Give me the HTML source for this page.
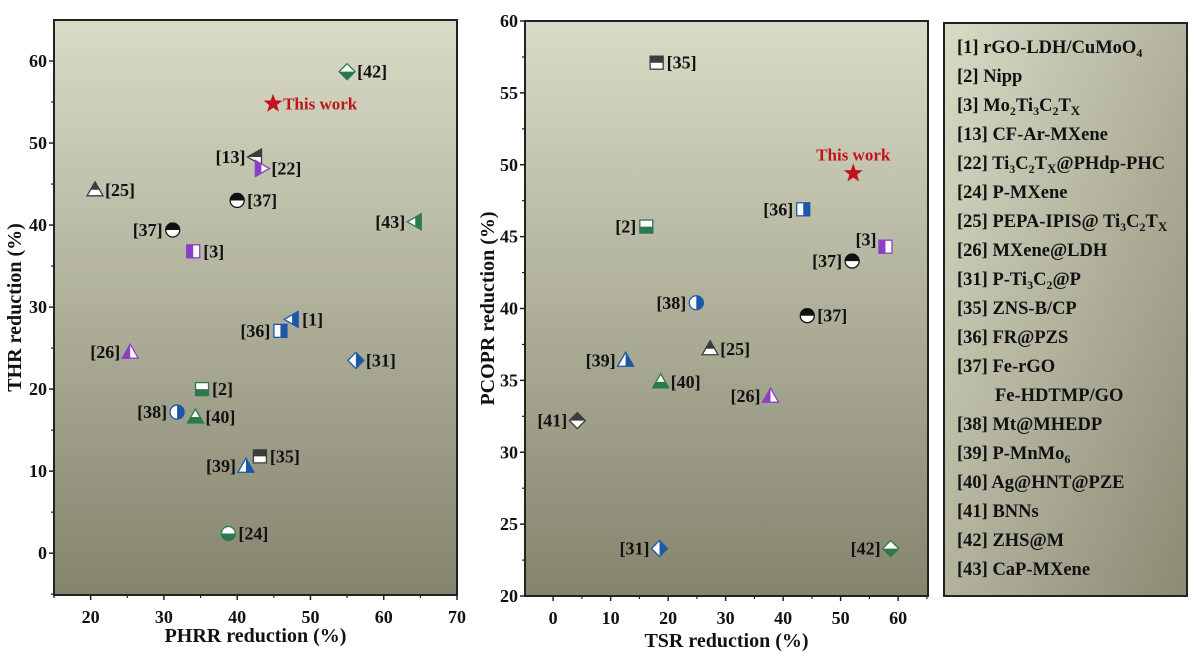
<!DOCTYPE html>
<html><head><meta charset="utf-8">
<style>
html,body{margin:0;padding:0;background:#fff;}
svg{display:block;font-family:"Liberation Serif",serif;font-weight:bold;}
</style></head>
<body>
<svg id="chart" width="1199" height="657" viewBox="0 0 1199 657" xmlns="http://www.w3.org/2000/svg">
<defs>
<linearGradient id="bg" x1="0" y1="0" x2="0" y2="1">
<stop offset="0" stop-color="#d9dbc6"/><stop offset="1" stop-color="#85856e"/>
</linearGradient>
<linearGradient id="bg2" x1="0" y1="0" x2="1" y2="1">
<stop offset="0" stop-color="#d9dbc6"/><stop offset="1" stop-color="#8b8b74"/>
</linearGradient>
<clipPath id="cT"><rect x="-10" y="-10" width="20" height="10"/></clipPath>
<clipPath id="cB"><rect x="-10" y="0" width="20" height="10"/></clipPath>
<clipPath id="cL"><rect x="-10" y="-10" width="10" height="20"/></clipPath>
<clipPath id="cR"><rect x="0" y="-10" width="10" height="20"/></clipPath>
</defs>
<g id="left"></g>
<g id="right"></g>
<g id="legend">
<rect x="944" y="23" width="243" height="573" fill="url(#bg2)" stroke="#222" stroke-width="2"/>
<g font-size="18.5" fill="#111">
<text x="957" y="53">[1] rGO-LDH/CuMoO<tspan font-size="12" dy="4">4</tspan></text>
<text x="957" y="82">[2] Nipp</text>
<text x="957" y="111">[3] Mo<tspan font-size="12" dy="4">2</tspan><tspan dy="-4">Ti</tspan><tspan font-size="12" dy="4">3</tspan><tspan dy="-4">C</tspan><tspan font-size="12" dy="4">2</tspan><tspan dy="-4">T</tspan><tspan font-size="13" dy="4">X</tspan></text>
<text x="957" y="140">[13] CF-Ar-MXene</text>
<text x="957" y="169">[22] Ti<tspan font-size="12" dy="4">3</tspan><tspan dy="-4">C</tspan><tspan font-size="12" dy="4">2</tspan><tspan dy="-4">T</tspan><tspan font-size="13" dy="4">X</tspan><tspan dy="-4">@PHdp-PHC</tspan></text>
<text x="957" y="198">[24] P-MXene</text>
<text x="957" y="227">[25] PEPA-IPIS@ Ti<tspan font-size="12" dy="4">3</tspan><tspan dy="-4">C</tspan><tspan font-size="12" dy="4">2</tspan><tspan dy="-4">T</tspan><tspan font-size="13" dy="4">X</tspan></text>
<text x="957" y="256">[26] MXene@LDH</text>
<text x="957" y="285">[31] P-Ti<tspan font-size="12" dy="4">3</tspan><tspan dy="-4">C</tspan><tspan font-size="12" dy="4">2</tspan><tspan dy="-4">@P</tspan></text>
<text x="957" y="314">[35] ZNS-B/CP</text>
<text x="957" y="343">[36] FR@PZS</text>
<text x="957" y="372">[37] Fe-rGO</text>
<text x="995" y="401">Fe-HDTMP/GO</text>
<text x="957" y="430">[38] Mt@MHEDP</text>
<text x="957" y="459">[39] P-MnMo<tspan font-size="12" dy="4">6</tspan></text>
<text x="957" y="488">[40] Ag@HNT@PZE</text>
<text x="957" y="517">[41] BNNs</text>
<text x="957" y="546">[42] ZHS@M</text>
<text x="957" y="575">[43] CaP-MXene</text>
</g>
</g>
</svg>
<script>
// Left chart data
const leftLabels = ["[42]","This work","[13]","[22]","[25]","[37]","[37]","[43]","[3]","[1]","[36]","[26]","[31]","[2]","[38]","[40]","[35]","[39]","[24]"];
const leftX = [55.0,44.9,42.5,43.3,20.6,40.0,31.2,64.3,34.0,47.5,45.9,25.4,56.2,35.2,31.8,34.3,43.1,41.2,38.8];
const leftY = [58.7,54.8,48.3,46.9,44.3,43.0,39.4,40.4,36.8,28.5,27.1,24.5,23.5,20.0,17.2,16.6,11.8,10.6,2.4];
const leftShape = ["diamond","star","triL","triR","triU","circle","circle","triL","square","triL","square","triU","diamond","square","circle","triU","square","triU","circle"];
const leftColor = ["green","red","dark","purple","dark","black","black","green","purple","blue","blue","purple","blue","green","blue","green","dark","blue","green"];
const leftHalf = ["B","","T","L","T","T","T","R","L","R","R","L","R","B","R","B","T","R","B"];
const leftSide = ["r","r","l","r","r","r","l","l","r","r","l","l","r","r","l","r","r","l","r"];
const leftXTicks = [20,30,40,50,60,70];
const leftYTicks = [0,10,20,30,40,50,60];
// Right chart data
const rightLabels = ["[35]","This work","[36]","[2]","[3]","[37]","[38]","[37]","[25]","[39]","[40]","[26]","[41]","[31]","[42]"];
const rightX = [18.0,52.2,43.5,16.2,57.8,52.0,24.9,44.2,27.3,12.6,18.7,37.8,4.2,18.5,58.7];
const rightY = [57.1,49.4,46.9,45.7,44.3,43.3,40.4,39.5,37.2,36.4,34.9,33.9,32.2,23.3,23.3];
const rightShape = ["square","star","square","square","square","circle","circle","circle","triU","triU","triU","triU","diamond","diamond","diamond"];
const rightColor = ["dark","red","blue","green","purple","black","blue","black","dark","blue","green","purple","dark","blue","green"];
const rightHalf = ["T","","R","B","L","T","R","T","T","R","B","L","T","R","B"];
const rightSide = ["r","t","l","l","lt","l","l","r","r","l","r","l","l","l","l"];
const rightXTicks = [0,10,20,30,40,50,60];
const rightYTicks = [20,25,30,35,40,45,50,55,60];

const COL = {green:"#2b7a4b",red:"#c0141c",dark:"#3c3c3c",black:"#111",purple:"#8b3fc6",blue:"#1d57a8"};
const NS = "http://www.w3.org/2000/svg";
function mk(tag, attrs, parent){const e=document.createElementNS(NS,tag);for(const k in attrs)e.setAttribute(k,attrs[k]);parent.appendChild(e);return e;}

function shapeEl(shape, attrs, parent){
  const s=7;
  if(shape==="circle") return mk("circle",Object.assign({cx:0,cy:0,r:s},attrs),parent);
  if(shape==="square") return mk("rect",Object.assign({x:-s+0.5,y:-s+0.5,width:2*s-1,height:2*s-1},attrs),parent);
  let pts;
  if(shape==="diamond") pts="0,-8 8,0 0,8 -8,0";
  if(shape==="triU") pts="0,-8 8,6 -8,6";
  if(shape==="triL") pts="-8,0 6,-8 6,8";
  if(shape==="triR") pts="8,0 -6,-8 -6,8";
  return mk("polygon",Object.assign({points:pts},attrs),parent);
}

function drawChart(g, cfg){
  const {x0,x1,y0,y1,xmin,xmax,ymin,ymax} = cfg;
  const sx = v => x0 + (v-xmin)/(xmax-xmin)*(x1-x0);
  const sy = v => y1 - (v-ymin)/(ymax-ymin)*(y1-y0);
  const bg = mk("rect",{x:x0,y:y0,width:x1-x0,height:y1-y0,fill:"url(#bg)",stroke:"#222","stroke-width":2},g);
  
  
  cfg.xTicks.forEach((t,i)=>{
    mk("line",{x1:sx(t),x2:sx(t),y1:y1,y2:y1+5,stroke:"#222","stroke-width":1.5},g);
    const m=t+cfg.xStep/2; if(m<xmax) mk("line",{x1:sx(m),x2:sx(m),y1:y1,y2:y1+3,stroke:"#222","stroke-width":1.2},g);
    if(i===0){const m0=t-cfg.xStep/2; if(m0>=xmin) mk("line",{x1:sx(m0),x2:sx(m0),y1:y1,y2:y1+3,stroke:"#222","stroke-width":1.2},g);}
    const tx=mk("text",{x:sx(t),y:y1+28,"text-anchor":"middle","font-size":18,fill:"#111"},g);
    tx.textContent=t;
    
    
  });
  cfg.yTicks.forEach((t,i)=>{
    mk("line",{x1:x0,x2:x0-5,y1:sy(t),y2:sy(t),stroke:"#222","stroke-width":1.5},g);
    const m=t+cfg.yStep/2; if(m<ymax) mk("line",{x1:x0,x2:x0-3,y1:sy(m),y2:sy(m),stroke:"#222","stroke-width":1.2},g);
    if(i===0){const m0=t-cfg.yStep/2; if(m0>ymin) mk("line",{x1:x0,x2:x0-3,y1:sy(m0),y2:sy(m0),stroke:"#222","stroke-width":1.2},g);}
    const tx=mk("text",{x:x0-7,y:sy(t)+6,"text-anchor":"end","font-size":18,fill:"#111"},g);
    tx.textContent=t;
    
    
  });
  const xt=mk("text",{x:(x0+x1)/2,y:cfg.xTitleY,"text-anchor":"middle","font-size":20,fill:"#111"},g);
  xt.textContent=cfg.xTitle;
  
  
  const cy=(y0+y1)/2;
  const yt=mk("text",{x:cfg.yTitleX,y:cy,"text-anchor":"middle","font-size":20,fill:"#111",transform:`rotate(-90 ${cfg.yTitleX} ${cy})`},g);
  yt.textContent=cfg.yTitle;
  
  
  cfg.xs.forEach((xv,i)=>{
    const px=sx(xv), py=sy(cfg.ys[i]);
    const pg=mk("g",{transform:`translate(${px},${py})`},g);
    
    
    const c=COL[cfg.colors[i]];
    if(cfg.shapes[i]==="star"){
      mk("polygon",{points:"0,-10 2.4,-3.3 9.5,-3.1 3.9,1.3 5.9,8.1 0,4.1 -5.9,8.1 -3.9,1.3 -9.5,-3.1 -2.4,-3.3",fill:c},pg);
    } else {
      shapeEl(cfg.shapes[i],{fill:"#fff"},pg);
      shapeEl(cfg.shapes[i],{fill:c,"clip-path":`url(#c${cfg.halves[i]})`},pg);
      shapeEl(cfg.shapes[i],{fill:"none",stroke:c,"stroke-width":1.3},pg);
    }
    const side=cfg.sides[i];
    const isRed=cfg.colors[i]==="red";
    let lx=px+10, ly=py+6, anc="start";
    if(side==="l"){lx=px-10;anc="end";}
    if(side==="t"){lx=px;ly=py-13;anc="middle";}
    if(side==="lt"){lx=px-9;ly=py-1;anc="end";}
    const lt=mk("text",{x:lx,y:ly,"text-anchor":anc,"font-size":isRed?17:18,fill:isRed?COL.red:"#111"},g);
    lt.textContent=cfg.labels[i];
    
    
  });
}

drawChart(document.getElementById('left'),{x0:54,x1:457,y0:20,y1:595,xmin:15,xmax:70,ymin:-5.1,ymax:65,
  xTicks:leftXTicks,yTicks:leftYTicks,xStep:10,yStep:10,xTitle:"PHRR reduction (%)",yTitle:"THR reduction (%)",xTitleY:642,yTitleX:21,
  xs:leftX,ys:leftY,shapes:leftShape,colors:leftColor,halves:leftHalf,sides:leftSide,labels:leftLabels});
drawChart(document.getElementById('right'),{x0:525,x1:928,y0:21,y1:596,xmin:-4.9,xmax:65.2,ymin:20,ymax:60,
  xTicks:rightXTicks,yTicks:rightYTicks,xStep:10,yStep:5,xTitle:"TSR reduction (%)",yTitle:"PCOPR reduction (%)",xTitleY:647,yTitleX:494,
  xs:rightX,ys:rightY,shapes:rightShape,colors:rightColor,halves:rightHalf,sides:rightSide,labels:rightLabels});
</script>
</body></html>
